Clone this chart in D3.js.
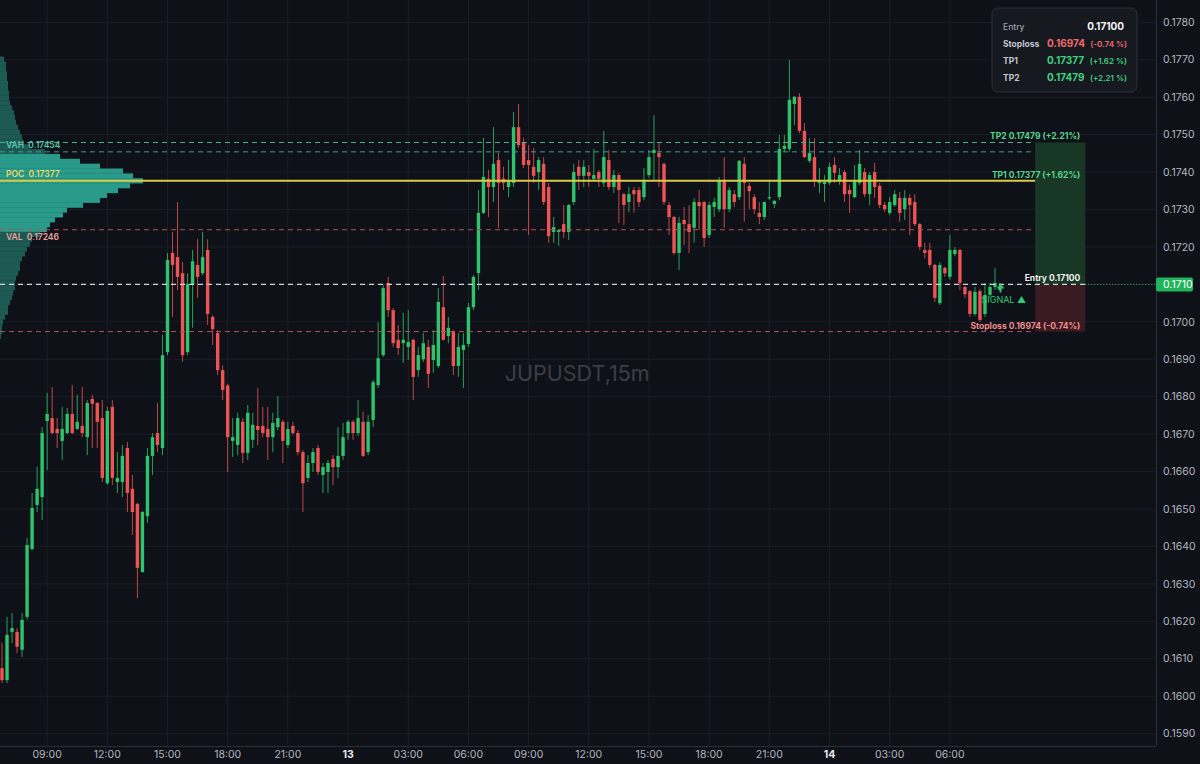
<!DOCTYPE html>
<html><head><meta charset="utf-8">
<script src="https://cdn.jsdelivr.net/npm/d3@7"></script>
<style>
html,body{margin:0;padding:0;background:#0f1118;}
svg{display:block;font-family:Inter,"Noto Sans",sans-serif;}
.pre{white-space:pre;}
</style></head><body>
<svg id="c" width="1200" height="764"></svg>
<script>
// ---------- DATA ----------
const symbolTitle = "JUPUSDT,15m";
const startTimeUTC = Date.UTC(2025, 0, 12, 6, 45);
const barMinutes = 15;

const opens = [0.16075,0.16043,0.16172,0.16172,0.16124,0.16212,0.16393,0.16511,0.16532,0.16735,
0.16743,0.16714,0.16682,0.16703,0.16754,0.16714,0.16722,0.16692,0.16794,0.16783,
0.16743,0.16569,0.16773,0.16572,0.16572,0.16663,0.16554,0.16514,0.16332,0.16481,
0.16642,0.16703,0.16663,0.16919,0.17184,0.17173,0.17130,0.16919,0.17101,0.17152,
0.17130,0.17192,0.17013,0.16970,0.16871,0.16830,0.16682,0.16671,0.16733,0.16650,
0.16685,0.16722,0.16722,0.16714,0.16692,0.16719,0.16733,0.16671,0.16722,0.16703,
0.16652,0.16583,0.16623,0.16663,0.16591,0.16599,0.16634,0.16612,0.16642,0.16703,
0.16733,0.16703,0.16733,0.16652,0.16738,0.16831,0.16911,0.17104,0.17031,0.16952,
0.16943,0.16933,0.16952,0.16871,0.16900,0.16933,0.16898,0.16882,0.17039,0.16962,
0.16973,0.16882,0.16925,0.16941,0.17039,0.17130,0.17291,0.17382,0.17360,0.17432,
0.17382,0.17360,0.17371,0.17520,0.17480,0.17432,0.17414,0.17400,0.17422,0.17360,
0.17240,0.17240,0.17261,0.17240,0.17320,0.17414,0.17390,0.17400,0.17382,0.17400,
0.17371,0.17432,0.17360,0.17392,0.17341,0.17320,0.17352,0.17352,0.17333,0.17392,
0.17451,0.17451,0.17422,0.17312,0.17280,0.17184,0.17272,0.17261,0.17251,0.17320,
0.17320,0.17232,0.17307,0.17301,0.17379,0.17301,0.17341,0.17333,0.17422,0.17363,
0.17333,0.17291,0.17280,0.17331,0.17315,0.17333,0.17462,0.17462,0.17582,0.17601,
0.17510,0.17430,0.17440,0.17371,0.17368,0.17371,0.17419,0.17379,0.17400,0.17352,
0.17333,0.17371,0.17400,0.17341,0.17400,0.17363,0.17312,0.17291,0.17312,0.17331,
0.17301,0.17331,0.17320,0.17261,0.17192,0.17192,0.17152,0.17050,0.17144,0.17120,
0.17181,0.17192,0.17093,0.17082,0.17021,0.17082,0.17021,0.17072,0.17093,0.17085];
const highs = [0.16142,0.16212,0.16222,0.16182,0.16222,0.16423,0.16543,0.16613,0.16719,0.16810,
0.16826,0.16743,0.16773,0.16770,0.16831,0.16805,0.16826,0.16791,0.16805,0.16786,
0.16791,0.16773,0.16791,0.16652,0.16671,0.16679,0.16591,0.16516,0.16495,0.16663,
0.16703,0.16783,0.16965,0.17184,0.17240,0.17320,0.17160,0.17130,0.17192,0.17221,
0.17240,0.17221,0.17018,0.16978,0.16884,0.16835,0.16743,0.16757,0.16743,0.16778,
0.16757,0.16823,0.16773,0.16773,0.16757,0.16802,0.16738,0.16733,0.16733,0.16711,
0.16658,0.16644,0.16663,0.16671,0.16623,0.16631,0.16644,0.16719,0.16730,0.16738,
0.16738,0.16791,0.16760,0.16751,0.16845,0.16999,0.17098,0.17120,0.17037,0.16992,
0.17024,0.17031,0.16955,0.16933,0.16970,0.16952,0.16978,0.17090,0.17122,0.17013,
0.16978,0.16970,0.16970,0.17050,0.17125,0.17352,0.17491,0.17406,0.17520,0.17451,
0.17414,0.17432,0.17560,0.17582,0.17491,0.17472,0.17464,0.17440,0.17440,0.17371,
0.17280,0.17248,0.17312,0.17315,0.17422,0.17432,0.17432,0.17419,0.17462,0.17406,
0.17510,0.17459,0.17406,0.17398,0.17344,0.17360,0.17360,0.17360,0.17411,0.17459,
0.17552,0.17480,0.17425,0.17320,0.17283,0.17280,0.17307,0.17312,0.17331,0.17352,
0.17323,0.17320,0.17331,0.17387,0.17440,0.17360,0.17352,0.17432,0.17440,0.17371,
0.17341,0.17320,0.17322,0.17376,0.17325,0.17499,0.17499,0.17699,0.17603,0.17611,
0.17531,0.17491,0.17491,0.17411,0.17392,0.17425,0.17440,0.17411,0.17406,0.17366,
0.17419,0.17459,0.17411,0.17400,0.17425,0.17371,0.17320,0.17333,0.17352,0.17347,
0.17352,0.17341,0.17341,0.17264,0.17211,0.17211,0.17155,0.17160,0.17147,0.17232,
0.17200,0.17195,0.17096,0.17085,0.17093,0.17088,0.17104,0.17104,0.17144,0.17104];
const lows = [0.16035,0.16035,0.16142,0.16115,0.16105,0.16205,0.16390,0.16492,0.16471,0.16604,
0.16700,0.16663,0.16631,0.16700,0.16700,0.16711,0.16692,0.16644,0.16663,0.16663,
0.16572,0.16565,0.16564,0.16543,0.16532,0.16492,0.16431,0.16262,0.16330,0.16463,
0.16591,0.16652,0.16644,0.16911,0.17013,0.17085,0.16893,0.16911,0.16984,0.17064,
0.17125,0.16992,0.16938,0.16858,0.16791,0.16599,0.16639,0.16644,0.16623,0.16631,
0.16663,0.16671,0.16692,0.16631,0.16652,0.16711,0.16623,0.16663,0.16698,0.16644,
0.16492,0.16572,0.16599,0.16591,0.16543,0.16543,0.16564,0.16583,0.16631,0.16685,
0.16685,0.16695,0.16639,0.16644,0.16719,0.16823,0.16906,0.17013,0.16933,0.16911,
0.16890,0.16898,0.16791,0.16853,0.16893,0.16823,0.16864,0.16877,0.16950,0.16943,
0.16858,0.16853,0.16823,0.16933,0.17031,0.17085,0.17288,0.17280,0.17320,0.17251,
0.17352,0.17333,0.17360,0.17464,0.17411,0.17232,0.17371,0.17352,0.17312,0.17211,
0.17211,0.17203,0.17224,0.17219,0.17312,0.17352,0.17360,0.17360,0.17379,0.17360,
0.17360,0.17352,0.17344,0.17264,0.17259,0.17293,0.17291,0.17307,0.17325,0.17385,
0.17379,0.17360,0.17312,0.17232,0.17179,0.17138,0.17205,0.17184,0.17211,0.17245,
0.17200,0.17224,0.17280,0.17293,0.17251,0.17293,0.17307,0.17325,0.17267,0.17301,
0.17288,0.17261,0.17272,0.17325,0.17304,0.17325,0.17454,0.17454,0.17526,0.17504,
0.17438,0.17425,0.17360,0.17344,0.17320,0.17366,0.17371,0.17366,0.17320,0.17291,
0.17330,0.17366,0.17333,0.17312,0.17331,0.17304,0.17293,0.17285,0.17307,0.17267,
0.17272,0.17232,0.17256,0.17192,0.17170,0.17144,0.17053,0.17045,0.17120,0.17112,
0.17175,0.17085,0.17064,0.17013,0.17016,0.17000,0.17013,0.17066,0.17085,0.17080];
const closes = [0.16043,0.16164,0.16182,0.16132,0.16204,0.16404,0.16503,0.16554,0.16703,0.16754,
0.16703,0.16703,0.16714,0.16754,0.16703,0.16733,0.16703,0.16783,0.16781,0.16733,
0.16583,0.16762,0.16583,0.16583,0.16642,0.16543,0.16492,0.16343,0.16492,0.16642,
0.16692,0.16671,0.16911,0.17165,0.17152,0.17120,0.16911,0.17101,0.17162,0.17120,
0.17173,0.17021,0.16981,0.16871,0.16818,0.16692,0.16692,0.16743,0.16650,0.16757,
0.16725,0.16711,0.16703,0.16692,0.16730,0.16743,0.16682,0.16714,0.16703,0.16652,
0.16569,0.16623,0.16652,0.16599,0.16612,0.16623,0.16612,0.16642,0.16692,0.16733,
0.16703,0.16743,0.16642,0.16733,0.16839,0.16903,0.17090,0.17031,0.16943,0.16930,
0.16952,0.16946,0.16853,0.16911,0.16943,0.16861,0.16938,0.17053,0.16952,0.16984,
0.16882,0.16933,0.16938,0.17039,0.17120,0.17291,0.17387,0.17360,0.17422,0.17371,
0.17371,0.17379,0.17520,0.17472,0.17419,0.17419,0.17390,0.17432,0.17320,0.17229,
0.17253,0.17245,0.17240,0.17312,0.17400,0.17390,0.17414,0.17390,0.17392,0.17382,
0.17440,0.17360,0.17392,0.17352,0.17312,0.17341,0.17341,0.17320,0.17379,0.17440,
0.17459,0.17440,0.17320,0.17280,0.17184,0.17264,0.17261,0.17240,0.17320,0.17309,
0.17224,0.17312,0.17320,0.17379,0.17301,0.17352,0.17320,0.17430,0.17371,0.17349,
0.17301,0.17280,0.17320,0.17333,0.17323,0.17462,0.17470,0.17593,0.17601,0.17510,
0.17440,0.17451,0.17379,0.17376,0.17374,0.17414,0.17398,0.17392,0.17341,0.17341,
0.17379,0.17422,0.17341,0.17392,0.17360,0.17312,0.17301,0.17320,0.17341,0.17291,
0.17331,0.17312,0.17261,0.17200,0.17184,0.17152,0.17064,0.17152,0.17130,0.17192,
0.17192,0.17104,0.17074,0.17021,0.17080,0.17005,0.17072,0.17093,0.17104,0.17093];

const priceTicks = [0.1590,0.1600,0.1610,0.1620,0.1630,0.1640,0.1650,0.1660,0.1670,0.1680,
0.1690,0.1700,0.1710,0.1720,0.1730,0.1740,0.1750,0.1760,0.1770,0.1780];
const lastPrice = 0.1710;

// volume profile (bins of profileBinSize, first bin centred at profileTopCenter)
const profileTopCenter = 0.17702;
const profileBinSize = 0.00013;
const profileVolumes = [4,6,6,7,7,8,8,9,9,10,12,14,15,16,18,20,22,23,30,45,60,80,100,123,133,143,
130,118,107,100,83,67,63,55,50,47,40,32,30,27,25,22,20,20,18,16,15,15,13,12,10,8,8,5,3,2,2,1];
const levelNames = ["VAH","POC","VAL"];
const levelValues = [0.17454,0.17377,0.17246];

// trade setup
const tradeLabels = ["Entry","Stoploss","TP1","TP2"];
const tradeValues = [0.17100,0.16974,0.17377,0.17479];
const tradePct = [null,-0.74,1.62,2.21];
const boxStartBar = 206, boxEndBar = 216, signalBar = 199;

// ---------- LAYOUT ----------
const W = 1156, H = 746;
const svg = d3.select("#c");
const barMs = barMinutes*60000;
const tOf = i => new Date(startTimeUTC + i*barMs);
const x = d3.scaleUtc().domain([tOf(-0.4), tOf(230.1)]).range([0, W]);
const y = d3.scaleLinear().domain([0.158671, 0.178596]).range([H, 0]);
const GREEN = "#2fc46c", RED = "#ee5454";

svg.append("rect").attr("width",1200).attr("height",764).attr("fill","#0f1118");

// grid (time grid only spans the loaded bars)
const timeTicks = x.ticks(d3.utcHour.every(3)).filter(t => t <= tOf(opens.length-1));
svg.append("g").selectAll("line").data(timeTicks).join("line")
  .attr("x1",d=>x(d)).attr("x2",d=>x(d)).attr("y1",0).attr("y2",H)
  .attr("stroke","#1b1e27").attr("stroke-width",1);
svg.append("g").selectAll("line").data(priceTicks).join("line")
  .attr("x1",0).attr("x2",W).attr("y1",d=>y(d)).attr("y2",d=>y(d))
  .attr("stroke","#1b1e27").attr("stroke-width",1);

// volume profile
const pw = d3.scaleLinear().domain([0, d3.max(profileVolumes)]).range([0, 143]);
const prof = svg.append("g");
profileVolumes.forEach((v,k)=>{
  const c = profileTopCenter - k*profileBinSize;
  const inVA = c <= levelValues[0]+1e-6 && c >= levelValues[2]-1e-6;
  prof.append("rect").attr("x",0).attr("y",y(c+profileBinSize/2))
    .attr("width",pw(v)).attr("height",y(c-profileBinSize/2)-y(c+profileBinSize/2)+0.3)
    .attr("fill", inVA ? "#2a9b8b" : "#1d5a54");
});

// watermark
svg.append("text").attr("x",x(tOf(114.7))).attr("y",y(0.16843)).attr("text-anchor","middle")
  .attr("fill","#3a3e49").attr("font-size",21.5).text(symbolTitle);

// position box
svg.append("rect").attr("x",x(tOf(boxStartBar))).attr("width",x(tOf(boxEndBar))-x(tOf(boxStartBar)))
  .attr("y",y(tradeValues[3])).attr("height",y(tradeValues[0])-y(tradeValues[3])).attr("fill","#183724");
svg.append("rect").attr("x",x(tOf(boxStartBar))).attr("width",x(tOf(boxEndBar))-x(tOf(boxStartBar)))
  .attr("y",y(tradeValues[0])).attr("height",y(tradeValues[1])-y(tradeValues[0])).attr("fill","#3a1b21");

// candles
const candles = svg.append("g");
opens.forEach((o,i)=>{
  const c = closes[i], up = c >= o, col = up ? GREEN : RED;
  const cx = x(tOf(i));
  candles.append("line").attr("x1",cx).attr("x2",cx).attr("y1",y(highs[i])).attr("y2",y(lows[i]))
    .attr("stroke",col).attr("stroke-width",1).attr("opacity",0.8);
  const top = y(Math.max(o,c)), bot = y(Math.min(o,c));
  candles.append("rect").attr("x",cx-1.7).attr("width",3.4).attr("y",top)
    .attr("height",Math.max(1.2,bot-top)).attr("fill",col);
});

// level lines
const boxX0 = x(tOf(boxStartBar)), boxX1 = x(tOf(boxEndBar));
function hline(v, x0, x1, col, dash, w){
  svg.append("line").attr("x1",x0).attr("x2",x1).attr("y1",y(v)).attr("y2",y(v))
    .attr("stroke",col).attr("stroke-width",w||1).attr("stroke-dasharray",dash||null);
}
hline(tradeValues[3],0,boxX0,"#4cb38e","5,4");
hline(levelValues[0],0,boxX0,"#3a9d94","5,4");
hline(levelValues[1],0,boxX0,"#d8cb45",null,2);
hline(levelValues[2],0,boxX0,"#b9504f","5,4");
hline(tradeValues[0],0,boxX1,"#cfd3da","5,4",1.2);
hline(lastPrice,boxX1,W,"#2fc46c","1,2");
hline(tradeValues[1],0,boxX0,"#b9504f","5,4");

// profile labels
const lvlCols = ["#5ec4ad","#e8d96a","#eda0a0"];
const lvlDy = [-4,-4,10];
levelNames.forEach((n,k)=>{
  svg.append("text").attr("class","pre").attr("x",6).attr("y",y(levelValues[k])+lvlDy[k]).attr("fill",lvlCols[k])
    .attr("font-size",8.5).attr("font-weight",600)
    .text(n+"  "+levelValues[k].toFixed(5));
});

// trade labels on box
const fmtPct = p => (p>0?"+":"")+p.toFixed(2)+"%";
const boxLbl = svg.append("g").attr("font-size",8.5).attr("font-weight",700).attr("text-anchor","end");
boxLbl.append("text").attr("x",boxX1-5).attr("y",y(tradeValues[3])-3).attr("fill","#57d68f")
  .text(`${tradeLabels[3]} ${tradeValues[3].toFixed(5)} (${fmtPct(tradePct[3])})`);
boxLbl.append("text").attr("x",boxX1-5).attr("y",y(tradeValues[2])-3).attr("fill","#57d68f")
  .text(`${tradeLabels[2]} ${tradeValues[2].toFixed(5)} (${fmtPct(tradePct[2])})`);
boxLbl.append("text").attr("x",boxX1-5).attr("y",y(tradeValues[0])-3).attr("fill","#eef0f3")
  .text(`${tradeLabels[0]} ${tradeValues[0].toFixed(5)}`);
boxLbl.append("text").attr("x",boxX1-5).attr("y",y(tradeValues[1])-3).attr("fill","#f08d8d")
  .text(`${tradeLabels[1]} ${tradeValues[1].toFixed(5)} (${fmtPct(tradePct[1])})`);

// signal
svg.append("text").attr("x",x(tOf(signalBar-3.7))).attr("y",y(tradeValues[0])+18.5)
  .attr("fill","#35c774").attr("font-size",9).text("SIGNAL ▲");
const ax = x(tOf(signalBar))+0.5, ay = y(tradeValues[0]);
svg.append("path").attr("d",`M${ax-3},${ay+4} L${ax},${ay+0.5} L${ax+3},${ay+4} M${ax},${ay+1} L${ax},${ay+8}`)
  .attr("stroke","#35c774").attr("stroke-width",1.6).attr("fill","none");

// axes frame
svg.append("line").attr("x1",W+0.5).attr("x2",W+0.5).attr("y1",0).attr("y2",H).attr("stroke","#2a2e39");
svg.append("line").attr("x1",0).attr("x2",W).attr("y1",H+0.5).attr("y2",H+0.5).attr("stroke","#2a2e39");

// price axis
const yAx = svg.append("g").attr("font-size",10.5).attr("fill","#b2b5be");
priceTicks.forEach(p=>{
  yAx.append("text").attr("x",W+7).attr("y",y(p)).attr("dy","0.35em").text(p.toFixed(4));
});
svg.append("rect").attr("x",W).attr("y",y(lastPrice)-7).attr("width",37).attr("height",14)
  .attr("rx",2).attr("fill","#22b45c");
svg.append("text").attr("x",W+7).attr("y",y(lastPrice)).attr("dy","0.35em").attr("font-size",10.5)
  .attr("fill","#ffffff").text(lastPrice.toFixed(4));

// time axis
const tAx = svg.append("g").attr("font-size",10.5).attr("text-anchor","middle");
timeTicks.forEach(t=>{
  const day = t.getUTCHours()===0;
  tAx.append("text").attr("x",x(t)).attr("y",758)
    .attr("fill", day ? "#e6e8ee" : "#b2b5be").attr("font-weight", day?700:400)
    .text(day ? d3.utcFormat("%-d")(t) : d3.utcFormat("%H:%M")(t));
});

// info box
const ib = svg.append("g").attr("transform","translate(992,8)");
ib.append("rect").attr("width",145).attr("height",84).attr("rx",6).attr("fill","#161920").attr("stroke","#2c303a");
const rowY = [22,39,56,73];
tradeLabels.forEach((lab,k)=>{
  ib.append("text").attr("x",11).attr("y",rowY[k]).attr("font-size",8.5).attr("font-weight",k===0?500:700)
    .attr("fill", k===0 ? "#9ca1ab" : "#c3c7cf").text(lab);
  if(k===0){
    ib.append("text").attr("x",132).attr("y",rowY[k]).attr("text-anchor","end").attr("font-size",10)
      .attr("font-weight",700).attr("fill","#f2f3f5").text(tradeValues[k].toFixed(5));
  } else {
    const col = k===1 ? "#f06a6a" : "#42d07e";
    ib.append("text").attr("x",55).attr("y",rowY[k]).attr("font-size",10).attr("font-weight",700)
      .attr("fill",col).text(tradeValues[k].toFixed(5));
    ib.append("text").attr("x",135).attr("y",rowY[k]).attr("text-anchor","end").attr("font-size",8)
      .attr("font-weight",600).attr("fill",col)
      .text(`(${tradePct[k]>0?"+":""}${tradePct[k].toFixed(2)} %)`);
  }
});
</script></body></html>
